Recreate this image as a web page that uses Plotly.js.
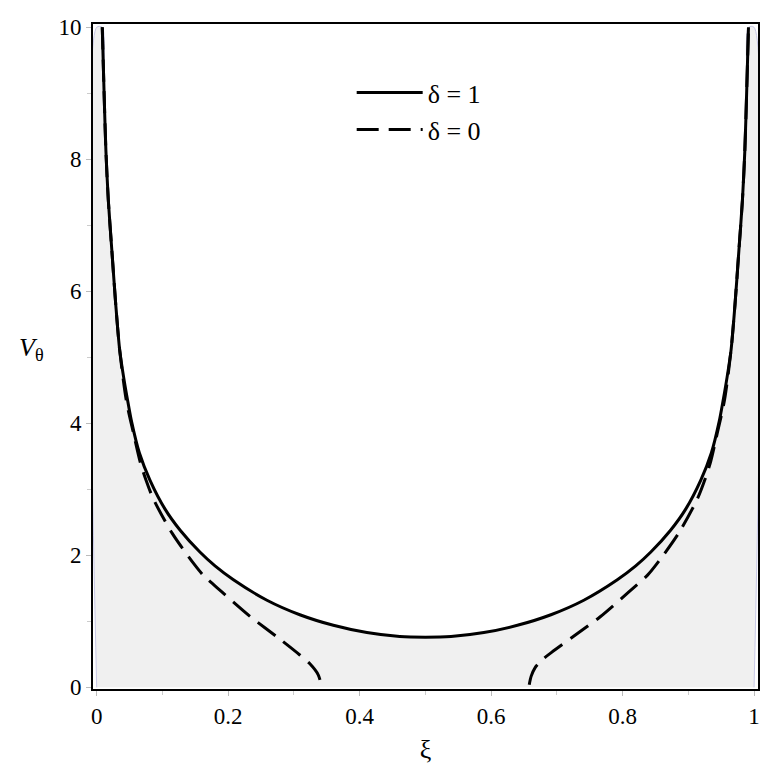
<!DOCTYPE html>
<html>
<head>
<meta charset="utf-8">
<script src="https://cdn.plot.ly/plotly-3.0.1.min.js"></script>
<style>html,body{margin:0;padding:0;background:#fff;}#chart{width:772px;height:772px;}</style>
</head>
<body>
<div id="chart"></div>
<script>
// δ = 1 (solid)
const xiSolid = [0.0085, 0.011, 0.014, 0.0177, 0.023, 0.029, 0.035, 0.041, 0.047, 0.053, 0.065, 0.081, 0.104, 0.127, 0.157, 0.18, 0.208, 0.259, 0.309, 0.360, 0.411, 0.461, 0.5,
                 0.539, 0.589, 0.640, 0.691, 0.741, 0.792, 0.82, 0.843, 0.873, 0.896, 0.919, 0.935, 0.947, 0.953, 0.959, 0.965, 0.971, 0.977, 0.9823, 0.986, 0.989, 0.9915];
const vSolid  = [10.0, 9.1, 8.14, 7.38, 6.63, 5.8, 5.11, 4.7, 4.35, 4.03, 3.55, 3.14, 2.70, 2.38, 2.05, 1.84, 1.63, 1.32, 1.10, 0.94, 0.83, 0.77, 0.76,
                 0.77, 0.83, 0.94, 1.10, 1.32, 1.63, 1.84, 2.05, 2.38, 2.70, 3.14, 3.55, 4.03, 4.35, 4.7, 5.11, 5.8, 6.63, 7.38, 8.14, 9.1, 10.0];
// δ = 0 (dashed), left branch
const xiDashL = [0.0085, 0.011, 0.014, 0.0177, 0.023, 0.029, 0.035, 0.045, 0.056, 0.066, 0.075, 0.086, 0.1145, 0.148, 0.162, 0.19, 0.234, 0.280, 0.309, 0.324, 0.337, 0.342];
const vDashL  = [10.0, 9.1, 8.14, 7.38, 6.63, 5.8, 5.11, 4.35, 3.85, 3.42, 3.14, 2.86, 2.34, 1.87, 1.70, 1.45, 1.07, 0.72, 0.49, 0.36, 0.19, 0.02];
// δ = 0 (dashed), right branch
const xiDashR = [0.658, 0.661, 0.667, 0.678, 0.692, 0.725, 0.766, 0.81, 0.838, 0.852, 0.8855, 0.914, 0.925, 0.934, 0.944, 0.955, 0.965, 0.971, 0.977, 0.9823, 0.986, 0.989, 0.9915];
const vDashR  = [0.04, 0.17, 0.30, 0.42, 0.53, 0.77, 1.07, 1.45, 1.70, 1.87, 2.34, 2.86, 3.14, 3.42, 3.85, 4.35, 5.11, 5.8, 6.63, 7.38, 8.14, 9.1, 10.0];

const legendLabels = ['δ = 1', 'δ = 0'];
const xTickVals = [0, 0.2, 0.4, 0.6, 0.8, 1];
const yTickVals = [0, 2, 4, 6, 8, 10];

const fillX = [0, 0].concat(xiSolid, [1, 1]);
const fillY = [0, 10].concat(vSolid, [10, 0]);

const font = "'Liberation Serif', 'Times New Roman', Times, serif";

const traces = [
  {x: fillX, y: fillY, mode: 'lines', fill: 'toself', fillcolor: '#f0f0f0',
   line: {color: '#c8c8e6', width: 1, shape: 'spline', smoothing: 0.8}, showlegend: false, hoverinfo: 'skip'},
  {x: xiSolid, y: vSolid, mode: 'lines', name: legendLabels[0],
   line: {color: '#000', width: 3, shape: 'spline', smoothing: 0.8}},
  {x: xiDashL, y: vDashL, mode: 'lines', name: legendLabels[1], legendgroup: 'd0',
   line: {color: '#000', width: 3, dash: '22px,10px', shape: 'spline', smoothing: 0.8}},
  {x: xiDashR, y: vDashR, mode: 'lines', name: legendLabels[1], legendgroup: 'd0', showlegend: false,
   line: {color: '#000', width: 3, dash: '22px,10px', shape: 'spline', smoothing: 0.8}}
];

const layout = {
  width: 772, height: 772,
  margin: {l: 93, r: 14, t: 24, b: 83},
  paper_bgcolor: '#fff', plot_bgcolor: '#fff',
  font: {family: font, size: 22, color: '#000'},
  showlegend: true,
  legend: {x: 0.389, y: 0.932, xanchor: 'left', yanchor: 'top', bgcolor: 'rgba(0,0,0,0)',
           font: {family: font, size: 26}, itemwidth: 66, tracegroupgap: 0},
  xaxis: {range: [-0.0056, 1.006], tickvals: xTickVals, ticks: 'outside', ticklen: 5, tickcolor: '#bbb',
          minor: {dtick: 0.1, tick0: 0, ticks: 'outside', ticklen: 4, tickcolor: '#ccc'},
          showgrid: false, zeroline: false, showline: true, linecolor: '#000', linewidth: 2, mirror: true,
          tickfont: {family: font, size: 23},
          title: {text: 'ξ', font: {family: font, size: 26}, standoff: 12}},
  yaxis: {range: [-0.025, 10.05], tickvals: yTickVals, ticks: 'outside', ticklen: 5, tickcolor: '#bbb',
          minor: {dtick: 1, tick0: 0, ticks: 'outside', ticklen: 4, tickcolor: '#ccc'},
          showgrid: false, zeroline: false, showline: true, linecolor: '#000', linewidth: 2, mirror: true,
          tickfont: {family: font, size: 23}},
  annotations: [{xref: 'paper', yref: 'paper', x: -0.092, y: 0.512, xanchor: 'center', yanchor: 'middle',
                 showarrow: false, text: '<i>V</i><sub>θ</sub>', font: {family: font, size: 26}}]
};

Plotly.newPlot('chart', traces, layout, {displayModeBar: false, staticPlot: true});
</script>
</body>
</html>
